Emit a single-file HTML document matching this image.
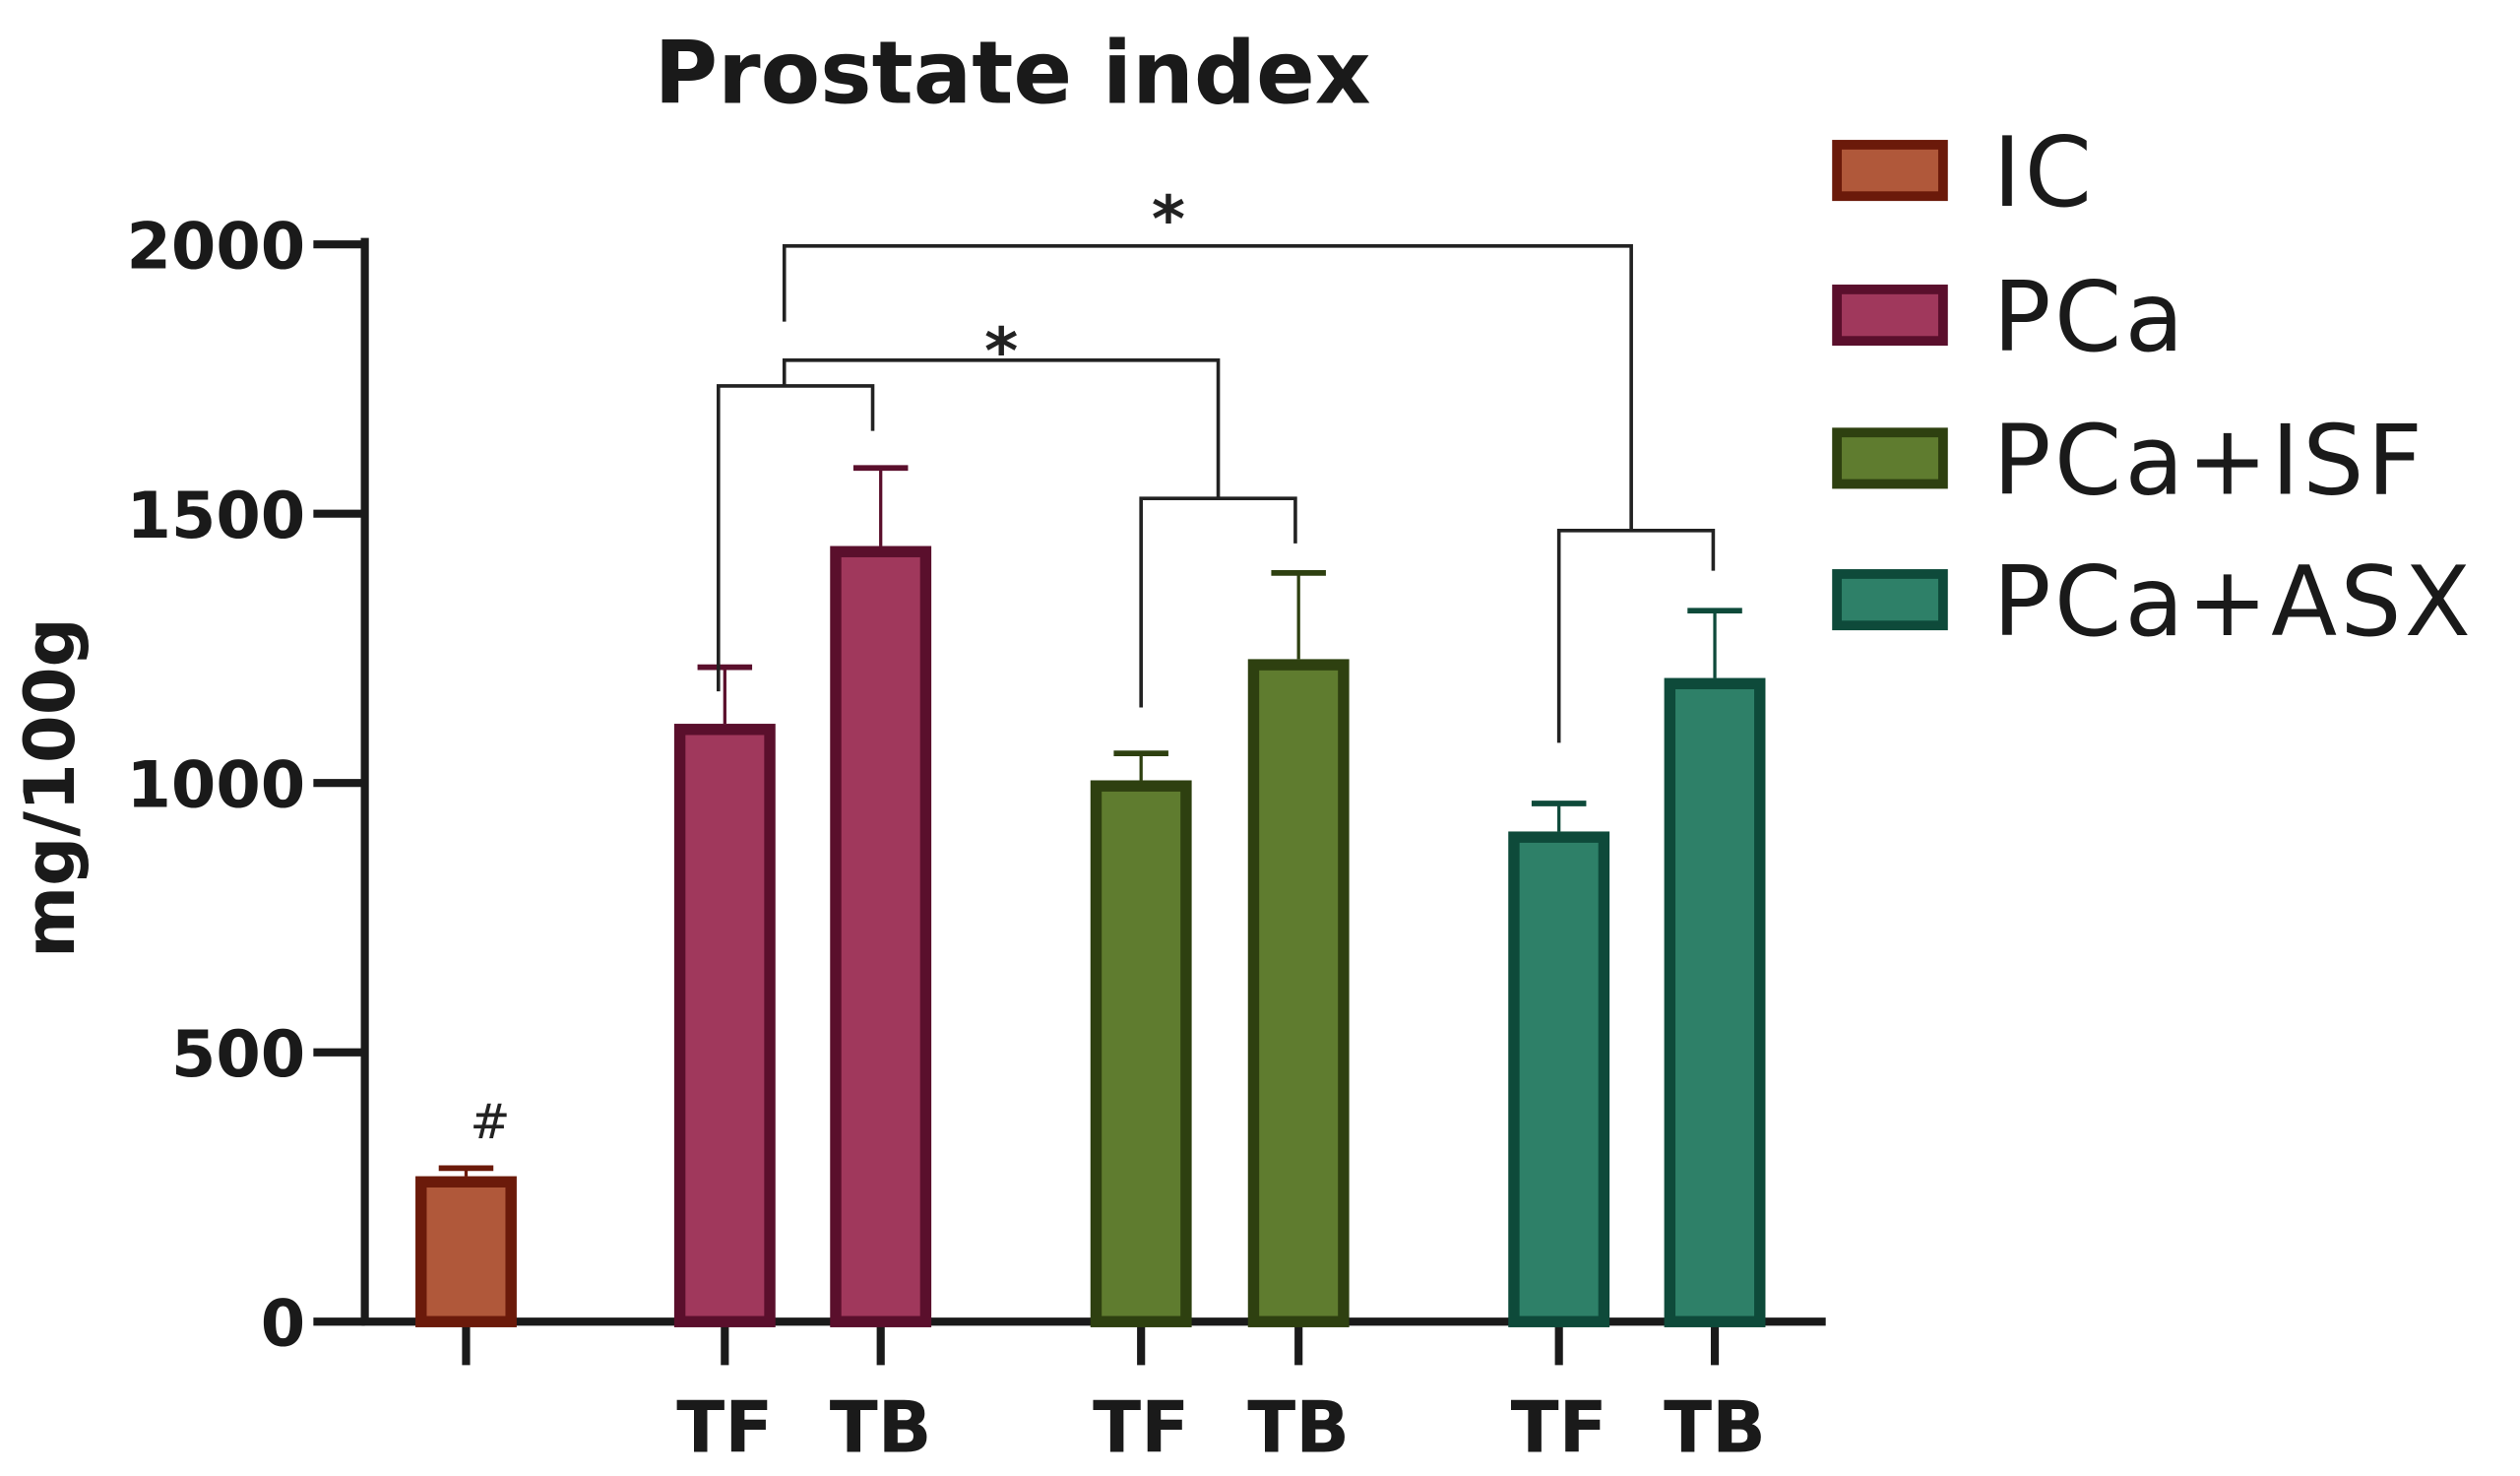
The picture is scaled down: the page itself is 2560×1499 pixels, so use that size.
<!DOCTYPE html>
<html><head><meta charset="utf-8"><style>
html,body{margin:0;padding:0;background:#fff;}
svg{display:block;}
text{font-family:"DejaVu Sans","Liberation Sans",sans-serif;}
</style></head><body>
<svg id="chart" width="2560" height="1499" viewBox="0 0 1568 918" preserveAspectRatio="none" xmlns="http://www.w3.org/2000/svg">
<text x="630" y="64" text-anchor="middle" font-size="54" font-weight="bold" fill="#1a1a1a">Prostate index</text>
<text transform="translate(46,490) rotate(-90)" text-anchor="middle" font-size="43" font-weight="bold" fill="#1a1a1a">mg/100g</text>
<g id="axes"></g>
<g id="bars"></g>
<g id="brackets" stroke="#222" stroke-width="2.2" fill="none">
<polyline points="447,430 447,240 543,240 543,268"/>
<polyline points="710,440 710,310 806,310 806,338"/>
<polyline points="970,462 970,330 1066,330 1066,355"/>
<polyline points="488,240 488,224 758,224 758,310"/>
<polyline points="488,200 488,153 1015,153 1015,330"/>
</g>
<text x="623" y="232" text-anchor="middle" font-size="40" font-weight="bold" fill="#222">*</text>
<text x="727" y="150" text-anchor="middle" font-size="40" font-weight="bold" fill="#222">*</text>
<text x="305" y="708" text-anchor="middle" font-size="30" fill="#222">#</text>
<g id="legend"></g>
</svg>
<script>
const groups = ["IC","PCa","PCa","PCa+ISF","PCa+ISF","PCa+ASX","PCa+ASX"];
const xLabels = ["","TF","TB","TF","TB","TF","TB"];
const values = [270,1110,1440,1005,1230,910,1195];
const errors = [15,105,145,50,160,52,125];
const yTicks = [0,500,1000,1500,2000];
const legendNames = ["IC","PCa","PCa+ISF","PCa+ASX"];
const fills = {"IC":"#b0583a","PCa":"#a0385c","PCa+ISF":"#5f7c2f","PCa+ASX":"#2e8068"};
const strokes = {"IC":"#6b1a0a","PCa":"#5a0f2c","PCa+ISF":"#2e4010","PCa+ASX":"#0e4a3a"};
const centers=[290,451,548,710,808,970,1067];
const NS="http://www.w3.org/2000/svg";
const y0=822, yTop=152, ymax=2000;
const y=v=>y0-(v/ymax)*(y0-yTop);
function mk(tag,attrs,parent){const e=document.createElementNS(NS,tag);for(const k in attrs)e.setAttribute(k,attrs[k]);parent.appendChild(e);return e;}
const axes=document.getElementById('axes'),bars=document.getElementById('bars'),leg=document.getElementById('legend');
let e=mk('line',{x1:227,y1:148,x2:227,y2:824,stroke:'#1a1a1a','stroke-width':5},axes);


e=mk('line',{x1:225,y1:822,x2:1136,y2:822,stroke:'#1a1a1a','stroke-width':5},axes);


yTicks.forEach(t=>{
 const l=mk('line',{x1:195,y1:y(t),x2:227,y2:y(t),stroke:'#1a1a1a','stroke-width':5},axes);
 
 
 const tx=mk('text',{x:190,y:y(t)+15,'text-anchor':'end','font-size':40,'font-weight':'bold',fill:'#1a1a1a'},axes);
 tx.textContent=t;
 
 
});
values.forEach((v,i)=>{
 const g=groups[i],cx=centers[i],w=63;
 const eb=mk('line',{x1:cx,y1:y(v),x2:cx,y2:y(v+errors[i]),stroke:strokes[g],'stroke-width':2},bars);
 
 
 const cap=mk('line',{x1:cx-17,y1:y(v+errors[i]),x2:cx+17,y2:y(v+errors[i]),stroke:strokes[g],'stroke-width':3.5},bars);
 
 
 const r=mk('rect',{x:cx-w/2+3.5,y:y(v)+3.5,width:w-7,height:y0-y(v)-3.5,fill:fills[g],stroke:strokes[g],'stroke-width':7},bars);
 
 
 const tk=mk('line',{x1:cx,y1:822,x2:cx,y2:849,stroke:'#1a1a1a','stroke-width':5},axes);
 
 
 if(xLabels[i]){const t=mk('text',{x:cx,y:903,'text-anchor':'middle','font-size':44,'font-weight':'bold',fill:'#1a1a1a'},axes);
 t.textContent=xLabels[i];
 
 }
});
const legY=[106,196,285,373];
legendNames.forEach((n,i)=>{
 const r=mk('rect',{x:1143,y:legY[i]-16,width:66,height:32,fill:fills[n],stroke:strokes[n],'stroke-width':6},leg);
 
 
 const t=mk('text',{x:1240,y:legY[i]+22,'font-size':60,'letter-spacing':2,fill:'#1a1a1a'},leg);
 t.textContent=n;
 
 
});
</script>
</body></html>
